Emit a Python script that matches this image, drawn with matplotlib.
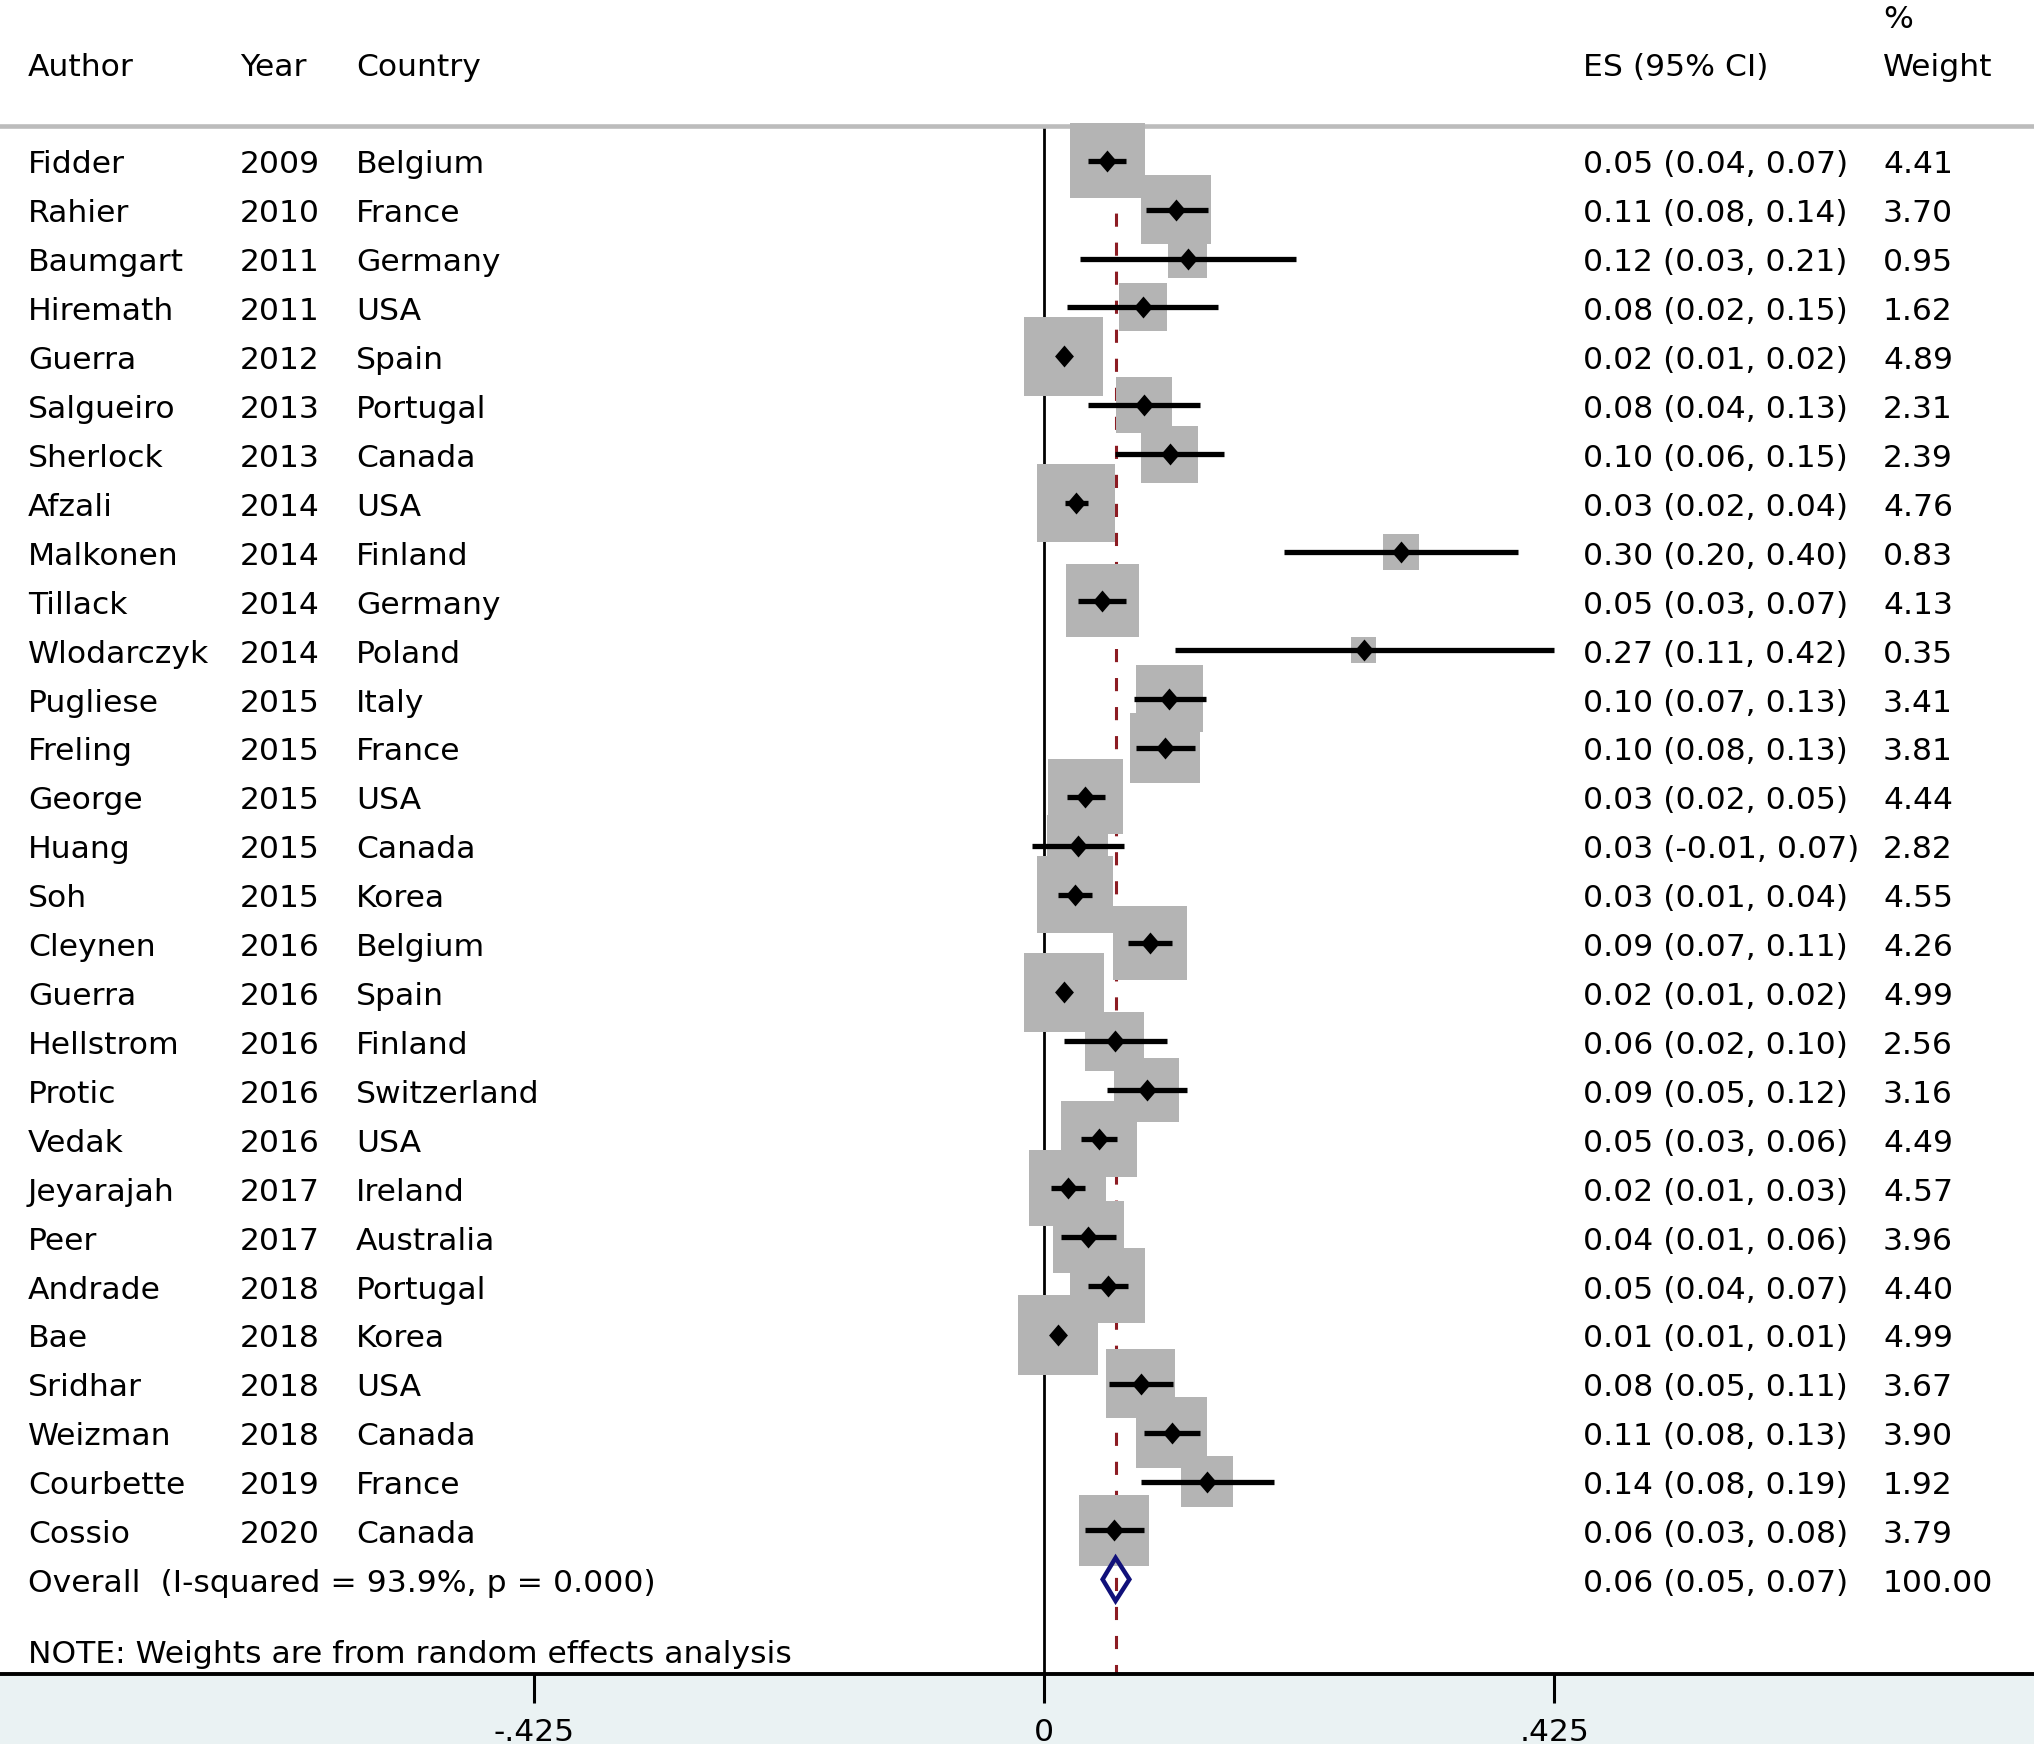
import matplotlib.pyplot as plt
from matplotlib.patches import Polygon
import numpy as np

# ---- data ----
authors = ["Fidder", "Rahier", "Baumgart", "Hiremath", "Guerra", "Salgueiro",
           "Sherlock", "Afzali", "Malkonen", "Tillack", "Wlodarczyk", "Pugliese",
           "Freling", "George", "Huang", "Soh", "Cleynen", "Guerra", "Hellstrom",
           "Protic", "Vedak", "Jeyarajah", "Peer", "Andrade", "Bae", "Sridhar",
           "Weizman", "Courbette", "Cossio"]
years = ["2009", "2010", "2011", "2011", "2012", "2013", "2013", "2014", "2014",
         "2014", "2014", "2015", "2015", "2015", "2015", "2015", "2016", "2016",
         "2016", "2016", "2016", "2017", "2017", "2018", "2018", "2018", "2018",
         "2019", "2020"]
countries = ["Belgium", "France", "Germany", "USA", "Spain", "Portugal", "Canada",
             "USA", "Finland", "Germany", "Poland", "Italy", "France", "USA",
             "Canada", "Korea", "Belgium", "Spain", "Finland", "Switzerland", "USA",
             "Ireland", "Australia", "Portugal", "Korea", "USA", "Canada", "France",
             "Canada"]
es = [0.0526, 0.110, 0.1195, 0.0822, 0.0166, 0.0832, 0.1045, 0.0265, 0.297,
      0.0485, 0.2661, 0.1042, 0.101, 0.0344, 0.0281, 0.0258, 0.088, 0.0166,
      0.059, 0.0854, 0.0455, 0.0197, 0.037, 0.0532, 0.0115, 0.0806, 0.1064,
      0.1357, 0.0583]
ci_lo = [0.0368, 0.0848, 0.030, 0.0195, 0.012, 0.0363, 0.059, 0.0175, 0.200,
         0.0283, 0.1087, 0.0746, 0.0765, 0.0188, -0.0102, 0.0118, 0.070, 0.012,
         0.0166, 0.0523, 0.0308, 0.006, 0.0143, 0.037, 0.009, 0.0545, 0.0832,
         0.0806, 0.0338]
ci_hi = [0.0685, 0.1364, 0.2098, 0.145, 0.021, 0.130, 0.150, 0.0367, 0.395,
         0.0685, 0.4248, 0.1345, 0.126, 0.0504, 0.0669, 0.0401, 0.1067, 0.021,
         0.102, 0.119, 0.0608, 0.0338, 0.0596, 0.0698, 0.014, 0.107, 0.130,
         0.1915, 0.0832]
weights = [4.41, 3.70, 0.95, 1.62, 4.89, 2.31, 2.39, 4.76, 0.83, 4.13, 0.35, 3.41,
           3.81, 4.44, 2.82, 4.55, 4.26, 4.99, 2.56, 3.16, 4.49, 4.57, 3.96, 4.40,
           4.99, 3.67, 3.90, 1.92, 3.79]
es_text = ["0.05 (0.04, 0.07)", "0.11 (0.08, 0.14)", "0.12 (0.03, 0.21)",
           "0.08 (0.02, 0.15)", "0.02 (0.01, 0.02)", "0.08 (0.04, 0.13)",
           "0.10 (0.06, 0.15)", "0.03 (0.02, 0.04)", "0.30 (0.20, 0.40)",
           "0.05 (0.03, 0.07)", "0.27 (0.11, 0.42)", "0.10 (0.07, 0.13)",
           "0.10 (0.08, 0.13)", "0.03 (0.02, 0.05)", "0.03 (-0.01, 0.07)",
           "0.03 (0.01, 0.04)", "0.09 (0.07, 0.11)", "0.02 (0.01, 0.02)",
           "0.06 (0.02, 0.10)", "0.09 (0.05, 0.12)", "0.05 (0.03, 0.06)",
           "0.02 (0.01, 0.03)", "0.04 (0.01, 0.06)", "0.05 (0.04, 0.07)",
           "0.01 (0.01, 0.01)", "0.08 (0.05, 0.11)", "0.11 (0.08, 0.13)",
           "0.14 (0.08, 0.19)", "0.06 (0.03, 0.08)"]
weight_text = ["4.41", "3.70", "0.95", "1.62", "4.89", "2.31", "2.39", "4.76",
               "0.83", "4.13", "0.35", "3.41", "3.81", "4.44", "2.82", "4.55",
               "4.26", "4.99", "2.56", "3.16", "4.49", "4.57", "3.96", "4.40",
               "4.99", "3.67", "3.90", "1.92", "3.79"]

overall_es, overall_lo, overall_hi = 0.0596, 0.0488, 0.0711
overall_label = "Overall  (I-squared = 93.9%, p = 0.000)"
overall_es_text = "0.06 (0.05, 0.07)"
overall_weight_text = "100.00"
note_text = "NOTE: Weights are from random effects analysis"

xticks = [-0.425, 0, 0.425]
xtick_labels = ["-.425", "0", ".425"]

# ---- layout (figure is 2034 x 1744 px, axis line at y=1674 px) ----
W, H, AXIS_PX = 2034, 1744, 1674
X0_PX, X_SCALE = 1044, 1201          # px of x=0, px per unit
ROW0_PX, ROW_PX = 160.7, 48.92       # px of first row, px per row


def px2x(px):
    return (px - X0_PX) / X_SCALE


def px2row(py):
    return (py - ROW0_PX) / ROW_PX


FONT = dict(family="DejaVu Sans", fontsize=22.6, color="black")
BASE = 0.26  # text baseline offset below row centre, in rows

fig = plt.figure(figsize=(W / 100, H / 100), dpi=100)
fig.patch.set_facecolor("#EAF2F3")
ax = fig.add_axes([0, (H - AXIS_PX) / H, 1, AXIS_PX / H])
ax.set_facecolor("white")
ax.set_xlim(px2x(0), px2x(W))
ax.set_ylim(px2row(AXIS_PX), px2row(0))

rows = np.arange(len(authors))
top = px2row(126)

# reference lines
ax.vlines(0, top, px2row(AXIS_PX), color="black", lw=2.0, zorder=1)
ax.vlines(overall_es, top, px2row(AXIS_PX), color="#8c1c23", lw=2.2,
          linestyles=(0, (4.3, 5.2)), zorder=1)
ax.axhline(top, color="#bcbcbc", lw=3.3, zorder=1)

# weight boxes
sizes = (23.7 * np.sqrt(weights) + 4.4) ** 2
ax.scatter(es, rows, s=sizes, marker="s", color="#b4b4b4", linewidths=0, zorder=2)

# confidence intervals and point estimates
ax.hlines(rows, ci_lo, ci_hi, color="black", lw=3.8, zorder=3)
diamond = [(0, 1), (0.86, 0), (0, -1), (-0.86, 0), (0, 1)]
ax.plot(es, rows, linestyle="none", marker=diamond, markersize=15.8,
        color="black", markeredgewidth=0, zorder=4)

# overall estimate
r_all = len(authors)
h = 0.44
ax.add_patch(Polygon([(overall_lo, r_all), (overall_es, r_all - h),
                      (overall_hi, r_all), (overall_es, r_all + h)],
                     closed=True, fill=False, edgecolor="#10107a", lw=3.2,
                     joinstyle="miter", zorder=3))

# header
hdr = px2row(76)
ax.text(px2x(28), hdr, "Author", va="baseline", ha="left", **FONT)
ax.text(px2x(240), hdr, "Year", va="baseline", ha="left", **FONT)
ax.text(px2x(356), hdr, "Country", va="baseline", ha="left", **FONT)
ax.text(px2x(1583), hdr, "ES (95% CI)", va="baseline", ha="left", **FONT)
ax.text(px2x(1883), hdr, "Weight", va="baseline", ha="left", **FONT)
ax.text(px2x(1883), px2row(28), "%", va="baseline", ha="left", **FONT)

# study rows
for r in rows:
    y = r + BASE
    ax.text(px2x(28), y, authors[r], va="baseline", ha="left", **FONT)
    ax.text(px2x(240), y, years[r], va="baseline", ha="left", **FONT)
    ax.text(px2x(356), y, countries[r], va="baseline", ha="left", **FONT)
    ax.text(px2x(1583), y, es_text[r], va="baseline", ha="left", **FONT)
    ax.text(px2x(1883), y, weight_text[r], va="baseline", ha="left", **FONT)

ax.text(px2x(28), r_all + BASE, overall_label, va="baseline", ha="left", **FONT)
ax.text(px2x(1583), r_all + BASE, overall_es_text, va="baseline", ha="left", **FONT)
ax.text(px2x(1883), r_all + BASE, overall_weight_text, va="baseline", ha="left", **FONT)
ax.text(px2x(28), px2row(1663), note_text, va="baseline", ha="left", **FONT)

# x axis at the bottom
for side in ["top", "left", "right"]:
    ax.spines[side].set_visible(False)
ax.spines["bottom"].set_linewidth(2.8)
ax.set_yticks([])
ax.set_xticks(xticks)
ax.set_xticklabels(xtick_labels, family="DejaVu Sans", fontsize=22.6)
ax.tick_params(axis="x", direction="out", length=21, width=2.2, pad=11)

fig.savefig("out.png", dpi=100)
